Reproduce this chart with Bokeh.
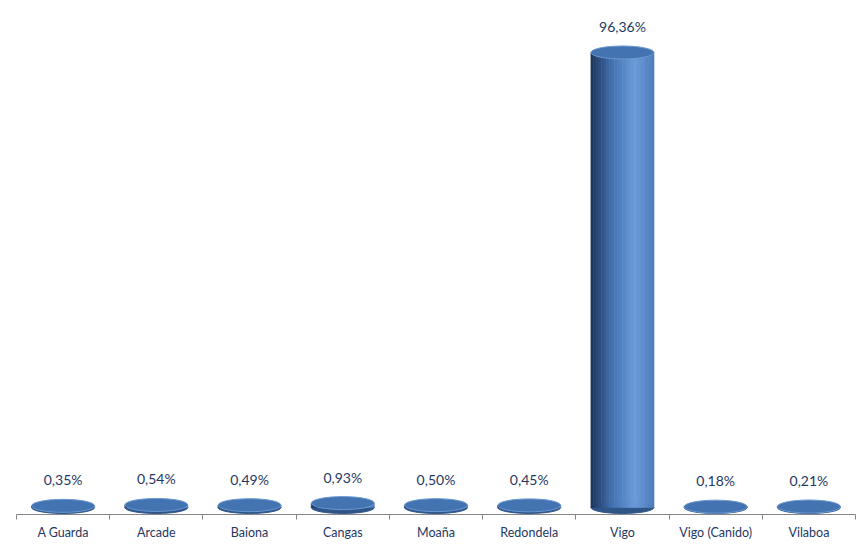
from bokeh.plotting import figure
from bokeh.models import ColumnDataSource, Range1d, FixedTicker
from bokeh.core.properties import value
from bokeh.embed import file_html
from bokeh.resources import INLINE

categories = ["A Guarda", "Arcade", "Baiona", "Cangas", "Moaña", "Redondela", "Vigo", "Vigo (Canido)", "Vilaboa"]
values = [0.35, 0.54, 0.49, 0.93, 0.50, 0.45, 96.36, 0.18, 0.21]
labels = [f"{v:.2f}".replace(".", ",") + "%" for v in values]

n = len(categories)
centers = [i + 0.5 for i in range(n)]
bar_w = 0.675

def lerp(a, b, t):
    return tuple(int(round(a[j] + (b[j] - a[j]) * t)) for j in range(3))

def shade(t):
    dark = (0x1C, 0x35, 0x5A)
    mid = (0x45, 0x73, 0xB3)
    light = (0x6C, 0x9C, 0xDA)
    edge = (0x4E, 0x7C, 0xBA)
    if t < 0.35:
        c = lerp(dark, mid, t / 0.35)
    elif t < 0.7:
        c = lerp(mid, light, (t - 0.35) / 0.35)
    else:
        c = lerp(light, edge, (t - 0.7) / 0.3)
    return "#%02x%02x%02x" % c

N = 24
sx, stop, sw, sc = [], [], [], []
for i in range(n):
    for k in range(N):
        t = (k + 0.5) / N
        sx.append(centers[i] - bar_w / 2 + t * bar_w)
        stop.append(values[i])
        sw.append(bar_w / N * 1.1)
        sc.append(shade(t))
strips = ColumnDataSource(dict(x=sx, top=stop, w=sw, c=sc))
bars = ColumnDataSource(dict(x=centers, top=values, zero=[0] * n, lab=labels))

scale = 455 / 96.36
y0 = -7 / scale
y1 = y0 + 506 / scale

p = figure(width=859, height=549, output_backend="svg", toolbar_location=None,
           x_range=Range1d(0, n), y_range=Range1d(y0, y1),
           min_border_left=16, min_border_right=4, min_border_top=8, min_border_bottom=35)
p.outline_line_color = None
p.xgrid.visible = False
p.ygrid.visible = False
p.yaxis.visible = False
p.background_fill_color = "white"

# bottom cap
p.ellipse(x="x", y="zero", width=bar_w, height=12, height_units="screen", source=bars,
          fill_color="#2F5589", line_color="#2F5589")
# body
p.vbar(x="x", top="top", bottom=0, width="w", source=strips, fill_color="c", line_color="c", line_width=0.5)
# top cap
p.ellipse(x="x", y="top", width=bar_w, height=13, height_units="screen", source=bars,
          fill_color="#4373B0", line_color="#6A98D2", line_width=1)

p.text(x="x", y="top", text="lab", source=bars, y_offset=-26, text_align="center",
       text_baseline="middle", text_font=value("Lato"), text_font_size="14px", text_color="#1F3864")

ax = p.xaxis[0]
ax.ticker = FixedTicker(ticks=centers, minor_ticks=list(range(n + 1)))
ax.major_label_overrides = {c: lab for c, lab in zip(centers, categories)}
ax.major_tick_line_color = None
ax.major_tick_out = 0
ax.major_tick_in = 0
ax.minor_tick_line_color = "#868686"
ax.minor_tick_out = 5
ax.minor_tick_in = 0
ax.axis_line_color = "#868686"
ax.major_label_standoff = 5
ax.major_label_text_font = "Lato"
ax.major_label_text_font_size = "12.5px"
ax.major_label_text_color = "#1F3864"

open("out.html", "w").write(file_html(p, INLINE))
